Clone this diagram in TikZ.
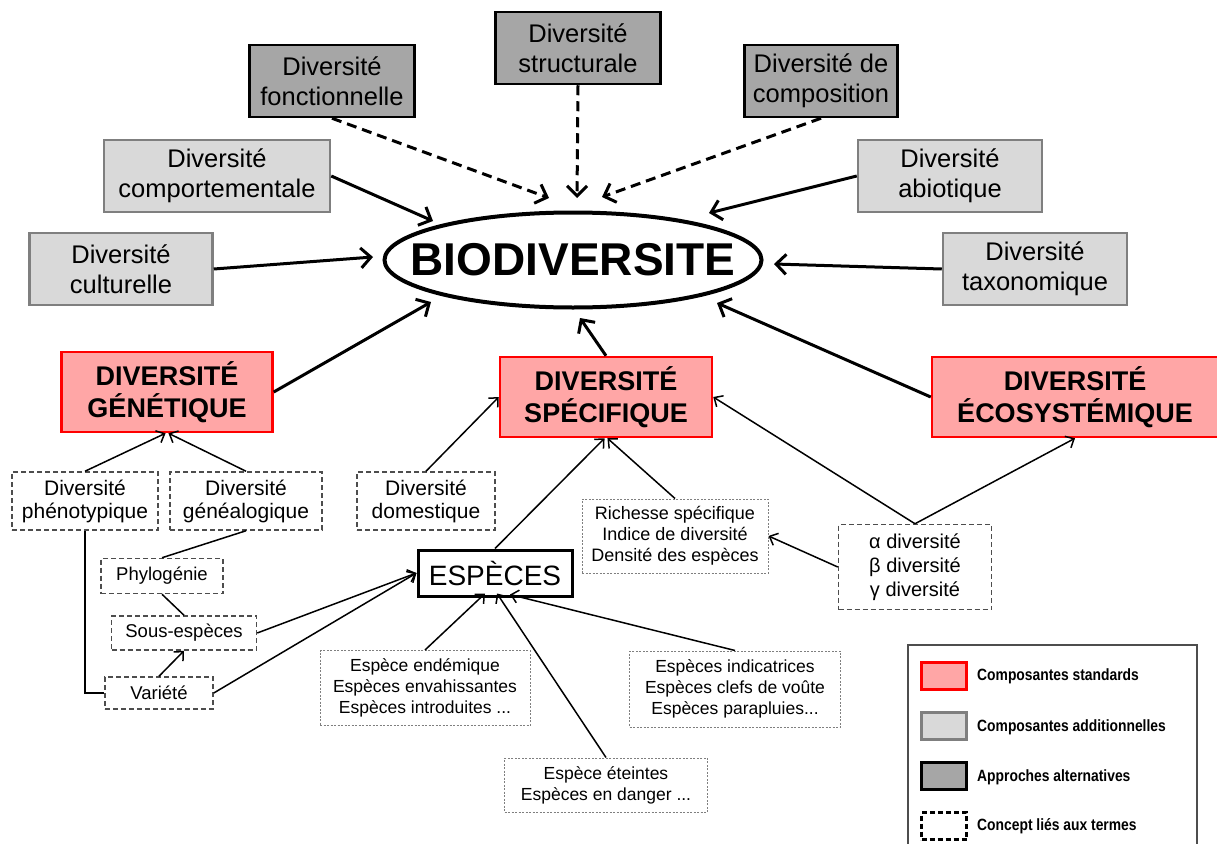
\documentclass[tikz,border=0pt]{standalone}
\usepackage{fontspec}
\setmainfont{Liberation Sans}
\newfontfamily\etroit{Liberation Sans}[FakeStretch=0.85]
\usetikzlibrary{arrows.meta,shapes.geometric}

\definecolor{rouge}{HTML}{FF0000}
\definecolor{rose}{HTML}{FFA6A6}
\definecolor{grisclair}{HTML}{D9D9D9}
\definecolor{grisbord}{HTML}{7F7F7F}
\definecolor{grisfonce}{HTML}{A6A6A6}
\definecolor{tiret}{HTML}{4D4D4D}

\tikzset{
  compstd/.style={draw=rouge, fill=rose, line width=2.5pt, inner sep=0pt, align=center,
    font=\fontsize{27}{32}\selectfont\bfseries},
  compadd/.style={draw=grisbord, fill=grisclair, line width=2.5pt, inner sep=0pt, align=center,
    minimum height=72pt, font=\fontsize{25.5}{30}\selectfont},
  approche/.style={draw=black, fill=grisfonce, line width=2.5pt, inner sep=0pt, align=center,
    minimum height=72pt, font=\fontsize{25.5}{30}\selectfont},
  conceptbox/.style={draw=tiret, dash pattern=on 5pt off 3pt, line width=1.5pt, fill=white,
    inner sep=0pt, align=center},
  listebox/.style={draw=grisbord, dash pattern=on 2pt off 1.5pt, line width=1pt, fill=white,
    inner sep=0pt, align=center},
  legendtxt/.style={anchor=west, inner sep=0pt, font=\etroit\fontsize{16.3}{18}\selectfont\bfseries},
  fort/.style={line width=3pt, ->},
  fin/.style={line width=1.5pt, -{Straight Barb[length=7pt,width=13pt]}},
  trait/.style={line width=1.5pt}
}

\begin{document}
\begin{tikzpicture}[x=1pt,y=-1pt,>={Straight Barb[length=10pt,width=20pt]}]
\useasboundingbox (0,0) rectangle (1217,843);

% centre
\node[ellipse, draw, line width=4pt, fill=white, minimum width=377pt, minimum height=95pt,
  inner xsep=-32pt, inner ysep=0pt, font=\fontsize{46}{46}\selectfont\bfseries] (bio) at (573,260) {BIODIVERSITE};

% approches alternatives
\node[approche, minimum width=165pt] (fonct) at (332,81) {Diversité\\fonctionnelle};
\node[approche, minimum width=165pt] (struct) at (578,48) {Diversité\\structurale};
\node[approche, minimum width=153pt] (compo) at (821,81) {Diversité de\\composition};

% composantes additionnelles
\node[compadd, minimum width=226pt] (comport) at (217,176) {Diversité\\comportementale};
\node[compadd, minimum width=184pt] (abio) at (950,176) {Diversité\\abiotique};
\node[compadd, minimum width=183pt] (cult) at (121,269) {Diversité\\culturelle};
\node[compadd, minimum width=184pt] (taxo) at (1035,269) {Diversité\\taxonomique};

% composantes standards
\node[compstd, minimum width=211pt, minimum height=80pt] (gen) at (167,392) {DIVERSITÉ\\GÉNÉTIQUE};
\node[compstd, minimum width=212pt, minimum height=80pt] (spec) at (606,397) {DIVERSITÉ\\SPÉCIFIQUE};
\node[compstd, minimum width=286pt, minimum height=80pt] (eco) at (1075,397) {DIVERSITÉ\\ÉCOSYSTÉMIQUE};

% concepts
\begin{scope}[every node/.style={conceptbox, font=\fontsize{21}{23}\selectfont}]
  \node[minimum width=146pt, minimum height=58pt] (pheno) at (85,501) {Diversité\\phénotypique};
  \node[minimum width=152pt, minimum height=58pt] (genea) at (246,501) {Diversité\\généalogique};
  \node[minimum width=138pt, minimum height=58pt] (dom) at (426,501) {Diversité\\domestique};
\end{scope}
\begin{scope}[every node/.style={conceptbox, font=\fontsize{18.5}{20}\selectfont}]
  \node[minimum width=122pt, minimum height=35pt] (phylo) at (162,576) {Phylogénie};
  \node[minimum width=145pt, minimum height=34pt] (sous) at (184,633) {Sous-espèces};
  \node[minimum width=108pt, minimum height=32pt] (var) at (159,693) {Variété};
  \node[minimum width=153pt, minimum height=85pt, font=\fontsize{20}{24}\selectfont] (alpha) at (915,567)
    {α diversité\\β diversité\\γ diversité};
\end{scope}
\node[draw, line width=3pt, fill=white, minimum width=154pt, minimum height=46pt, inner sep=0pt,
  font=\fontsize{28}{28}\selectfont] (esp) at (495,573) {ESPÈCES};

\begin{scope}[every node/.style={listebox, font=\fontsize{17.5}{21}\selectfont}]
  \node[minimum width=186pt, minimum height=74pt, font=\fontsize{18}{21}\selectfont] (rich) at (675,536)
    {Richesse spécifique\\Indice de diversité\\Densité des espèces};
  \node[minimum width=210pt, minimum height=75pt] (endem) at (425,688)
    {Espèce endémique\\Espèces envahissantes\\Espèces introduites ...};
  \node[minimum width=211pt, minimum height=76pt] (indic) at (735,689)
    {Espèces indicatrices\\Espèces clefs de voûte\\Espèces parapluies...};
  \node[minimum width=203pt, minimum height=54pt] (eteint) at (606,785)
    {Espèce éteintes\\Espèces en danger ...};
\end{scope}

% pointes vers la biodiversite
\coordinate (pF) at (549,198);
\coordinate (pS) at (577,198);
\coordinate (pC) at (602,197);
\coordinate (pCo) at (433,221);
\coordinate (pCu) at (373,257);
\coordinate (pAb) at (709,213);
\coordinate (pTa) at (774,264);
\coordinate (pG) at (431,302);
\coordinate (pSp) at (580,318);
\coordinate (pE) at (717,303);

\begin{scope}[every edge/.style={draw, fort}]
  \path (fonct.south) edge[dash pattern=on 10pt off 6pt] (pF);
  \path (struct.south) edge[dash pattern=on 10pt off 6pt] (pS);
  \path (compo.south) edge[dash pattern=on 10pt off 6pt] (pC);
  \path (comport.east) edge (pCo);
  \path (cult.east) edge (pCu);
  \path (abio.west) edge (pAb);
  \path (taxo.west) edge (pTa);
  \path (gen.east) edge (pG);
  \path (spec.north) edge (pSp);
  \path (eco.west) edge (pE);
\end{scope}

\begin{scope}[every edge/.style={draw, fin}]
  \path (pheno.north) edge (gen.268);
  \path (genea.north) edge (gen.272);
  \path (dom.north) edge (spec.west);
  \path (esp.north) edge (spec.268);
  \path (rich.north) edge (spec.272);
  \path (alpha.north) edge (spec.east);
  \path (alpha.north) edge (eco.south);
  \path (alpha.west) edge (rich.east);
  \path (var.north) edge (sous.south);
  \path (sous.east) edge (esp.west);
  \path (var.east) edge (esp.west);
  \path (endem.north) edge ([xshift=-10pt,yshift=4pt]esp.south);
  \path (eteint.north) edge ([xshift=2pt,yshift=4pt]esp.south);
  \path (indic.north) edge ([xshift=15pt,yshift=3pt]esp.south);
\end{scope}

\draw[trait] (genea.south) -- (phylo.north);
\draw[trait] (phylo.south) -- (sous.north);
\draw[trait] (pheno.south) |- (var.west);

% legende
\draw[draw=tiret, line width=1.5pt] (908,645) rectangle (1197,860);
\node[draw=rouge, fill=rose, line width=2.5pt, minimum width=45pt, minimum height=27pt] (s1) at (944,676) {};
\node[draw=grisbord, fill=grisclair, line width=2.5pt, minimum width=45pt, minimum height=27pt] (s2) at (944,726) {};
\node[draw=black, fill=grisfonce, line width=2.5pt, minimum width=45pt, minimum height=27pt] (s3) at (944,776) {};
\node[draw=black, dash pattern=on 5pt off 3pt, line width=2.5pt, minimum width=45pt, minimum height=27pt] (s4) at (944,826) {};
\node[legendtxt] (l1) at (977,676) {Composantes standards};
\node[legendtxt] (l2) at (977,727) {Composantes additionnelles};
\node[legendtxt] (l3) at (977,777) {Approches alternatives};
\node[legendtxt] (l4) at (977,826) {Concept liés aux termes};

\end{tikzpicture}
\end{document}
